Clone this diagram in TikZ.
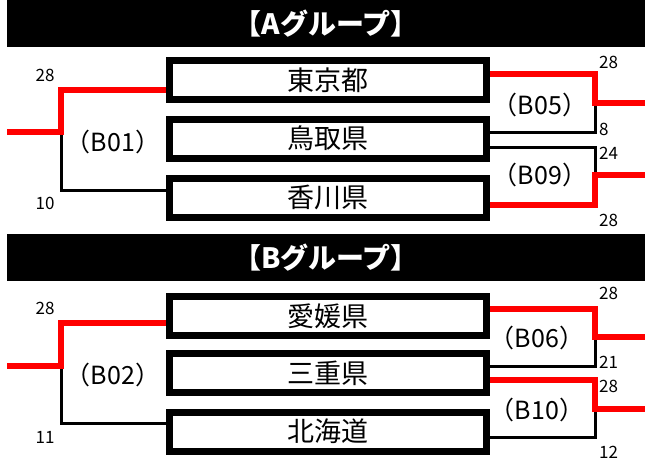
\documentclass[tikz,border=0pt]{standalone}
\usepackage{fontspec}
\setmainfont{Noto Sans CJK JP}
\usetikzlibrary{positioning,calc}

\begin{document}
\begin{tikzpicture}[x=1pt,y=-1pt,
      team/.style={draw,line width=7pt,minimum width=317pt,minimum height=39pt,
         inner sep=0pt,font=\fontsize{27}{27}\selectfont},
      banner/.style={fill=black,text=white,minimum width=638pt,minimum height=47pt,
         inner sep=0pt,font=\bfseries\fontsize{28}{28}\selectfont},
      match/.style={font=\fontsize{25}{25}\selectfont},
      score/.style={font=\fontsize{17}{17}\selectfont,inner sep=0pt},
      win/.style={red,line width=6pt},
      lose/.style={black,line width=3pt}]
      \useasboundingbox (0,0) rectangle (645,461);

      \node[banner] (grpA) at (326,23.5) {【Aグループ】};
      \node[banner] (grpB) at (326,257.5) {【Bグループ】};

      \node[team] (tokyo)    at (328,80)    {東京都};
      \node[team] (tottori)  at (328,138.5) {鳥取県};
      \node[team] (kagawa)   at (328,197.5) {香川県};
      \node[team] (ehime)    at (328,316)   {愛媛県};
      \node[team] (mie)      at (328,373)   {三重県};
      \node[team] (hokkaido) at (328,431.5) {北海道};

      \coordinate (o01) at (7,132);   \coordinate (m01) at (61,132);
      \coordinate (m05) at (595,103); \coordinate (o05) at (645,103);
      \coordinate (m09) at (595,175); \coordinate (o09) at (645,175);
      \coordinate (o02) at (7,366);   \coordinate (m02) at (61,366);
      \coordinate (m06) at (595,337); \coordinate (o06) at (645,337);
      \coordinate (m10) at (595,409); \coordinate (o10) at (645,409);

      \draw[lose] (m01) |- ([yshift=7pt]kagawa.west);
      \draw[win] (o01) -- (m01) |- ([yshift=-10pt]tokyo.west);
      \draw[lose] (m05) |- ([yshift=6pt]tottori.east);
      \draw[win] ([yshift=6pt]tokyo.east) -| (m05) -- (o05);
      \draw[lose] ([yshift=-9pt]tottori.east) -| (m09);
      \draw[win] ([yshift=-7pt]kagawa.east) -| (m09) -- (o09);

      \draw[lose] (m02) |- ([yshift=8.5pt]hokkaido.west);
      \draw[win] (o02) -- (m02) |- ([yshift=-7pt]ehime.west);
      \draw[lose] (m06) |- ([yshift=7pt]mie.east);
      \draw[win] ([yshift=7pt]ehime.east) -| (m06) -- (o06);
      \draw[lose] (m10) |- ([yshift=-5.5pt]hokkaido.east);
      \draw[win] ([yshift=-7pt]mie.east) -| (m10) -- (o10);

      \node[match] (b01) at (113,142) {（B01）};
      \node[match] (b05) at (540,105) {（B05）};
      \node[match] (b09) at (540,175) {（B09）};
      \node[match] (b02) at (113,375) {（B02）};
      \node[match] (b06) at (537,338) {（B06）};
      \node[match] (b10) at (537,410) {（B10）};

      \node[score] (s01a) at (45,75)  {28};
      \node[score] (s01b) at (45,203) {10};
      \node[score,anchor=west] (s05a) at (599,62)  {28};
      \node[score,anchor=west] (s05b) at (599,129) {8};
      \node[score,anchor=west] (s09a) at (599,153) {24};
      \node[score,anchor=west] (s09b) at (599,220) {28};
      \node[score] (s02a) at (45,308) {28};
      \node[score] (s02b) at (45,437) {11};
      \node[score,anchor=west] (s06a) at (599,293) {28};
      \node[score,anchor=west] (s06b) at (599,362) {21};
      \node[score,anchor=west] (s10a) at (599,386) {28};
      \node[score,anchor=west] (s10b) at (599,452) {12};
   \end{tikzpicture}
\end{document}
